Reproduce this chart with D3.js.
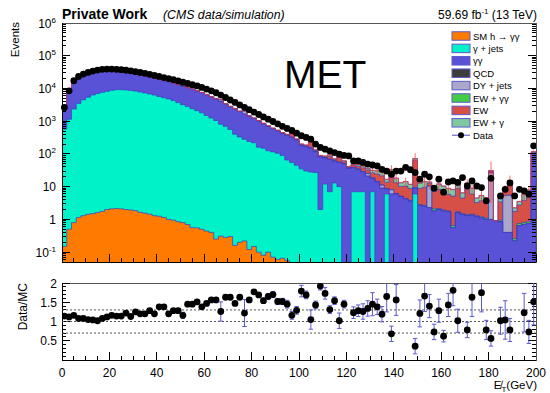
<!DOCTYPE html>
<html><head><meta charset="utf-8">
<script src="https://cdn.jsdelivr.net/npm/d3@7"></script>
<style>body{margin:0;background:#fff}svg{font-family:"Liberation Sans",Arial,Helvetica,sans-serif}</style>
</head><body><svg id="c" width="550" height="393"></svg>
<script>
// ---------- DATA (2 GeV bins, 0-200 GeV) ----------
const binLow = d3.range(0, 200, 2);
const binWidth = 2;
const smH = [0.15,0.5,0.8,1.14,1.3,1.44,1.5,1.62,1.75,2.0,
 2.1,2.15,2.1,2.0,1.95,1.85,1.65,1.55,1.45,1.3,
 1.25,1.15,1.0,0.95,0.85,0.8,0.7,0.56,0.55,0.5,
 0.44,0.4,0.25,0.31,0.28,0.3,0.16,0.2,0.22,0.12,
 0.15,0.1,0.08,0.1,0.07,0.06,0.065,0.055,0.05,0.04,
 0,0,0,0,0,0,0,0,0,0, 0,0,0,0,0,0,0,0,0,0, 0,0,0,0,0,0,0,0,0,0,
 0,0,0,0,0,0,0,0,0,0, 0,0,0,0,0,0,0,0,0,0];
const gJets = [575,1150,2350,3500,4500,5400,6300,7000,7600,8200,
 8800,9200,9200,9000,8700,8300,7800,7300,6800,6300,
 5700,5200,4800,4300,3700,3200,2800,2400,2100,1800,
 1500,1250,1050,810,700,560,400,330,280,240,
 220,160,150,125,115,105,90,65,55,45,
 35,30,28,27,2,12,7,13,10,0,
 0,7,7,7,0,7,0,0,6,0,
 0,0,0,0,6,0,0,0,0,0,
 0,0,0,0,0,0,0,0,0,0,
 0,0,0,0,0,0,0,0,0,0];
const diPhoton = [1675,6250,12050,17000,20300,22800,24500,25500,25700,25300,
 24400,23400,22400,21300,20200,19000,17800,16600,15400,14200,
 13100,12000,10900,9900,9200,8500,7700,7000,6300,5600,
 4900,4250,3650,3190,2600,2190,1950,1620,1370,1160,
 980,840,670,565,465,395,330,305,265,215,
 145,135,122,88,78,63,61,47,45,50,
 36,31,27,21,21,11,14,9,2.5,6,
 6,5,4.2,3.6,3,2.7,2.5,2.3,1.8,2.0,
 1.8,1.7,0.55,1.6,1.4,1.3,1.35,1.2,1.1,1.0,
 1.0,0.9,0.85,0.4,0.4,0.22,0.65,0.7,0.75,100];
const qcd = [0,0,0,0,0,0,0,0,0,0, 0,0,0,0,0,0,0,0,0,0, 0,0,0,0,0,0,0,0,0,0,
 0,0,0,0,0,0,0,0,0,0, 0,0,0,0,0,0,0,0,0,0, 0,0,0,0,0,0,0,0,0,0,
 0,0,0,0,0,0,0,0,0,0, 0,0,0,0,0,0,0,0,0,0, 0,0,0,0,0,0,0,0,0,0,
 0,0,0,0,0,0,0,0,0,0];
const dyJets = [0,0,0,0,0,0,0,0,0,0,
 0,0,0,0,0,0,0,0,0,0,
 0,0,400,0,0,600,0,0,0,0,
 0,0,0,450,0,0,0,0,380,0,
 0,0,0,0,0,0,0,0,0,0,
 0,0,0,0,0,0,0,0,0,0,
 0,0,0,0,4,0,0,2,0,2,
 0,0,0,0,0,0,0,8,0,0,
 0,0,0,0,0,0,0,0,0,0,
 25,0,0,5,5,0,0,0,0,0];
const ewGG = [7,22,43,60,72,82,88,92,94,94,
 93,91,88,85,81,76,71,66,61,56,
 52,47,43,39,35,32,29,26,23,21,
 19,17,15,13,11,10,9,8,7,6,
 5.5,5,4.5,4,3.5,3,2.7,2.4,2.2,2,
 1.8,1.6,1.5,1.3,1.2,1.1,1,0.9,0.8,0.7,
 0.6,0.55,0.5,0.45,0.4,0.35,0.3,0.3,0.25,0.25,
 0.2,0.2,0.2,0.2,0.2,0.15,0.15,0.15,0.3,0.15,
 0.15,0.12,0.1,0.12,0.1,0.1,0.1,0.1,0.1,0.1,
 0.1,0,0.1,0.1,0.1,0.04,0.1,0.1,0.1,1];
const ew = [25,90,170,250,300,340,370,390,400,400,
 400,390,380,370,350,330,310,290,270,250,
 235,215,200,185,170,160,145,130,120,110,
 100,90,80,70,62,55,50,44,40,35,
 31,28,25,22,20,18,16,14,90,16,
 12,13,90,11,5,6,15,6,25,7,
 3,7,8,9,7,8,10,10,5,17,
 7,5,6,5,55,6,7,2,5,6,
 5,4,4.5,7,3,7,4.5,2,2.5,2,
 3,0,2.5,1.5,6,1.5,2,3,4.5,10];
const ewG = [15,55,110,160,190,215,235,250,255,255,
 250,245,240,230,220,210,195,185,170,160,
 150,140,130,120,110,100,95,88,80,72,
 66,60,54,48,43,38,34,30,27,24,
 22,19,17,15,14,12,11,10,30,11,
 8,8,25,8,4,4,10,4,14,4,
 2,4,5,6,4,5,6,7,3,8,
 5,3,4,3,8,4,4.5,1.5,3,4,
 3.5,3,3,4,2,4.5,3,1.2,1.7,1.5,
 2,0,1.6,1,4,0.5,0.8,2,2.5,6];
const dataCounts = [2640,8500,17200,23400,27600,31000,34000,36500,38500,39100,
 39100,38500,37400,36000,34500,32500,31000,29000,27000,25000,
 23400,21500,20000,18500,17000,15500,14200,13000,12000,10800,
 9600,8500,7400,6300,5300,4450,3750,3150,2650,2250,
 1900,1600,1350,1150,980,830,700,600,520,430,
 360,320,282,200,158,140,124,110,98,90,
 87,61,61,55,49,46,43,34,30,24,
 30,30,39,33,27,17,24,20,9,17,
 6.8,14,15,13.5,19,10.5,15,10.5,9.4,3.7,
 18,null,5.2,8.3,13,5.2,8.3,7.4,5.9,177];
const ratioVals = [1.14,1.12,1.16,1.08,1.08,1.05,1.04,1.02,1.08,1.12,
 1.16,1.14,1.14,1.22,1.13,1.25,1.20,1.20,1.28,1.20,
 1.38,1.38,1.20,1.28,1.28,1.16,1.45,1.45,1.51,1.38,
 1.47,1.56,1.56,1.26,1.63,1.63,1.47,1.63,1.22,1.56,
 1.77,1.69,1.54,1.65,1.70,1.52,1.52,1.45,1.16,1.29,
 1.79,1.69,1.05,1.43,1.92,1.73,1.31,1.54,1.02,1.45,
 null,1.23,1.28,1.26,1.34,1.45,1.38,1.19,1.65,0.68,
 1.56,null,null,null,0.36,1.21,1.66,1.40,0.73,1.28,
 0.62,1.43,1.81,1.02,null,0.78,1.63,null,1.75,0.78,
 0.56,null,1.02,1.04,0.78,null,null,1.23,0.73,1.51];
const ratioErrs = [.02,.015,.015,.015,.015,.015,.015,.015,.015,.015,
 .015,.015,.015,.04,.02,.02,.02,.02,.02,.02,
 .02,.025,.06,.03,.03,.08,.03,.03,.04,.03,
 .03,.03,.04,.25,.05,.05,.05,.05,.35,.06,
 .06,.06,.07,.07,.08,.08,.08,.1,.1,.1,
 .15,.1,.25,.1,.1,.15,.1,.1,.2,.1,
 0,.15,.15,.2,.2,.3,.2,.2,.4,.2,
 .4,0,0,0,.2,.35,.4,.3,.2,.3,
 .15,.3,.4,.3,0,.2,.5,0,.5,.25,
 .2,0,.35,.5,.3,0,0,.5,.3,.6];
const mcErrBins = [48,52,56,58,61,63,65,66,67,69,70,72,74,76,77,79,81,83,85,86,88,90,93,94,97,98,99];
const mcErrRel  = [0.15,0.2,0.2,0.25,0.2,0.2,0.25,0.2,0.3,0.35,0.3,0.3,0.45,0.3,0.4,0.3,0.3,0.35,0.3,0.3,0.35,0.9,0.4,0.4,0.35,0.35,0.1];

const seriesNames = ["SM h \u2192 \u03b3\u03b3","\u03b3 + jets","\u03b3\u03b3","QCD","DY + jets","EW + \u03b3\u03b3","EW","EW + \u03b3"];
const seriesColors = ["#ff7a00","#00f2c8","#5a52d6","#3d3d3d","#aaa7c9","#44cc44","#d65047","#80c8a0"];
const seriesValues = [smH, gJets, diPhoton, qcd, dyJets, ewGG, ew, ewG];
const xTicks = [0,20,40,60,80,100,120,140,160,180,200];
const yMainTicks = [0.1,1,10,100,1e3,1e4,1e5,1e6];
const yMainTickBase = ["10","1","10","10","10","10","10","10"];
const yMainTickExp = ["-1","","","2","3","4","5","6"];
const ratioTicks = [0.5,1,1.5,2];
const ratioTickLabels = ["0.5","1","1.5","2"];
const ratioRefLines = [0.7,1.0,1.3];

// ---------- LAYOUT ----------
const L=62, R=536, T=23, B=262, RT=283, RB=360;
const svg = d3.select("#c");
const x = d3.scaleLinear().domain([0,200]).range([L,R]);
const y = d3.scaleLog().domain([0.05,1e6]).range([B,T]);
const yr = d3.scaleLinear().domain([0,2]).range([RB,RT]);
const Y = v => (v != null && v > 0.05) ? y(v) : B + 3;

const defs = svg.append("defs");
defs.append("clipPath").attr("id","cm").append("rect").attr("x",L).attr("y",T).attr("width",R-L).attr("height",B-T);
defs.append("clipPath").attr("id","cr").append("rect").attr("x",L).attr("y",RT).attr("width",R-L).attr("height",RB-RT);

// ---------- STACK ----------
const keys = seriesNames.map((d,i)=>"s"+i);
const rows = binLow.map((b,i)=>{const r={b}; keys.forEach((k,j)=>r[k]=seriesValues[j][i]); return r;});
const stacked = d3.stack().keys(keys)(rows);

const gm = svg.append("g").attr("clip-path","url(#cm)");
function stepPts(vals){
  const pts=[];
  vals.forEach((v,i)=>{pts.push([x(binLow[i]),Y(v)]);pts.push([x(binLow[i]+binWidth),Y(v)]);});
  return pts;
}
const area = d3.area().x(d=>d[0]).y0(B+3).y1(d=>d[1]);
const line = d3.line().x(d=>d[0]).y(d=>d[1]);
for(let k=keys.length-1;k>=0;k--){
  const tops = stacked[k].map(d=>d[1]);
  const pts = stepPts(tops);
  gm.append("path").attr("d",area(pts)).attr("fill",seriesColors[k]);
  const op = [[x(0),B+3],...pts,[x(200),B+3]];
  gm.append("path").attr("d",line(op)).attr("fill","none").attr("stroke","#3a3ac4").attr("stroke-width",0.8).attr("stroke-opacity",0.85);
}
// total MC top outline (red)
const totals = stacked[keys.length-1].map(d=>d[1]);
gm.append("path").attr("d",line(stepPts(totals))).attr("fill","none").attr("stroke","#e03a3a").attr("stroke-width",0.9).attr("stroke-opacity",0.8);
// MC uncertainty lines
mcErrBins.forEach((b,j)=>{
  const t = totals[b], cx = x(binLow[b]+binWidth/2);
  gm.append("line").attr("x1",cx).attr("x2",cx).attr("y1",Y(t*(1+mcErrRel[j]))).attr("y2",Y(t*(1-mcErrRel[j])))
    .attr("stroke","#ff3b3b").attr("stroke-width",1).attr("stroke-opacity",0.75);
});
// data
dataCounts.forEach((v,i)=>{
  if(v==null||v<=0) return;
  svg.append("circle").attr("cx",x(binLow[i]+binWidth/2)).attr("cy",y(v)).attr("r",3.4).attr("fill","#000");
});

// ---------- MAIN AXES ----------
const ax = svg.append("g").attr("stroke","#000").attr("stroke-width",1).attr("shape-rendering","crispEdges");
ax.append("rect").attr("x",L).attr("y",T).attr("width",R-L).attr("height",B-T).attr("fill","none").attr("stroke","#555");
ax.append("line").attr("x1",L).attr("x2",L).attr("y1",T).attr("y2",B);
ax.append("line").attr("x1",L).attr("x2",R).attr("y1",B).attr("y2",B);
for(let e=-2;e<=5;e++){
  for(let m=1;m<=9;m++){
    const v=m*Math.pow(10,e);
    if(v<0.05||v>1e6) continue;
    const len = m===1?8:4, yy=y(v);
    ax.append("line").attr("x1",L).attr("x2",L+len).attr("y1",yy).attr("y2",yy);
    ax.append("line").attr("x1",R).attr("x2",R-len).attr("y1",yy).attr("y2",yy);
  }
}
for(let g=0; g<=200; g+=5){
  const len = g%20===0?8:4;
  ax.append("line").attr("x1",x(g)).attr("x2",x(g)).attr("y1",B).attr("y2",B-len);
  ax.append("line").attr("x1",x(g)).attr("x2",x(g)).attr("y1",RB).attr("y2",RB-len);
}
yMainTicks.forEach((v,i)=>{
  const t = svg.append("text").attr("x",56).attr("y",y(v)+4.5).attr("text-anchor","end").attr("font-size",12).attr("fill","#000");
  t.append("tspan").text(yMainTickBase[i]);
  if(yMainTickExp[i]) t.append("tspan").attr("dy",-5).attr("font-size",8).text(yMainTickExp[i]);
});
// fix anchoring for superscripts: shift labels with exponent handled by end anchor on whole text

// ---------- RATIO PANEL ----------
const ar = svg.append("g").attr("stroke","#000").attr("stroke-width",1).attr("shape-rendering","crispEdges");
ar.append("rect").attr("x",L).attr("y",RT).attr("width",R-L).attr("height",RB-RT).attr("fill","none").attr("stroke","#555");
ar.append("line").attr("x1",L).attr("x2",L).attr("y1",RT).attr("y2",RB);
ar.append("line").attr("x1",L).attr("x2",R).attr("y1",RB).attr("y2",RB);
for(let i=1;i<=20;i++){
  const v=i/10, len=(i%5===0)?8:4, yy=yr(v);
  ar.append("line").attr("x1",L).attr("x2",L+len).attr("y1",yy).attr("y2",yy);
  ar.append("line").attr("x1",R).attr("x2",R-len).attr("y1",yy).attr("y2",yy);
}
ratioRefLines.forEach(v=>{
  svg.append("line").attr("x1",L).attr("x2",R).attr("y1",yr(v)).attr("y2",yr(v))
    .attr("stroke","#555").attr("stroke-width",1).attr("stroke-dasharray","2,2");
});
ratioTicks.forEach((v,i)=>{
  svg.append("text").attr("x",57).attr("y",yr(v)+4.5).attr("text-anchor","end").attr("font-size",12).text(ratioTickLabels[i]);
});
const gr = svg.append("g").attr("clip-path","url(#cr)");
ratioVals.forEach((v,i)=>{
  if(v==null) return;
  const cx=x(binLow[i]+binWidth/2), e=ratioErrs[i];
  if(e>0){
    gr.append("line").attr("x1",cx).attr("x2",cx).attr("y1",yr(v+e)).attr("y2",yr(v-e)).attr("stroke","#5a5ad2").attr("stroke-width",1);
    [v+e,v-e].forEach(w=>gr.append("line").attr("x1",cx-2.2).attr("x2",cx+2.2).attr("y1",yr(w)).attr("y2",yr(w)).attr("stroke","#5a5ad2").attr("stroke-width",1));
  }
  gr.append("circle").attr("cx",cx).attr("cy",yr(v)).attr("r",3.4).attr("fill","#000");
});
xTicks.forEach(v=>{
  svg.append("text").attr("x",x(v)).attr("y",377).attr("text-anchor","middle").attr("font-size",12).text(v);
});

// ---------- TEXTS ----------
svg.append("text").attr("x",62).attr("y",19).attr("font-size",14).attr("font-weight","bold").text("Private Work");
svg.append("text").attr("x",163).attr("y",19).attr("font-size",12.3).attr("font-style","italic").text("(CMS data/simulation)");
const lumi = svg.append("text").attr("x",537).attr("y",19).attr("text-anchor","end").attr("font-size",12);
lumi.append("tspan").text("59.69 fb");
lumi.append("tspan").attr("dy",-5).attr("font-size",8).text("-1");
lumi.append("tspan").attr("dy",5).text(" (13 TeV)");
svg.append("text").attr("transform","translate(19,22) rotate(-90)").attr("text-anchor","end").attr("font-size",11.5).text("Events");
svg.append("text").attr("transform","translate(27,283) rotate(-90)").attr("text-anchor","end").attr("font-size",12).text("Data/MC");
svg.append("text").attr("x",284).attr("y",88).attr("font-size",39).text("MET");
const xt = svg.append("text").attr("x",537).attr("y",389).attr("text-anchor","end").attr("font-size",11.5);
xt.append("tspan").text("E\u0338");
xt.append("tspan").attr("dy",3).attr("font-size",8).text("T");
xt.append("tspan").attr("dy",-3).text("(GeV)");

// ---------- LEGEND ----------
const legY0 = 36, legDy = 12.4, bx = 452, bw = 18, bh = 8.5;
seriesNames.forEach((n,i)=>{
  const cy = legY0 + i*legDy;
  svg.append("rect").attr("x",bx).attr("y",cy-bh/2).attr("width",bw).attr("height",bh).attr("fill",seriesColors[i]).attr("stroke","#5a5ad2").attr("stroke-width",1);
  svg.append("text").attr("x",bx+bw+3).attr("y",cy+3.5).attr("font-size",9.5).text(n);
});
const dcy = legY0 + 8*legDy;
svg.append("line").attr("x1",bx).attr("x2",bx+bw).attr("y1",dcy).attr("y2",dcy).attr("stroke","#4a4ad0").attr("stroke-width",1);
svg.append("circle").attr("cx",bx+bw/2).attr("cy",dcy).attr("r",3).attr("fill","#000");
svg.append("text").attr("x",bx+bw+3).attr("y",dcy+3.5).attr("font-size",9.5).text("Data");
</script></body></html>
